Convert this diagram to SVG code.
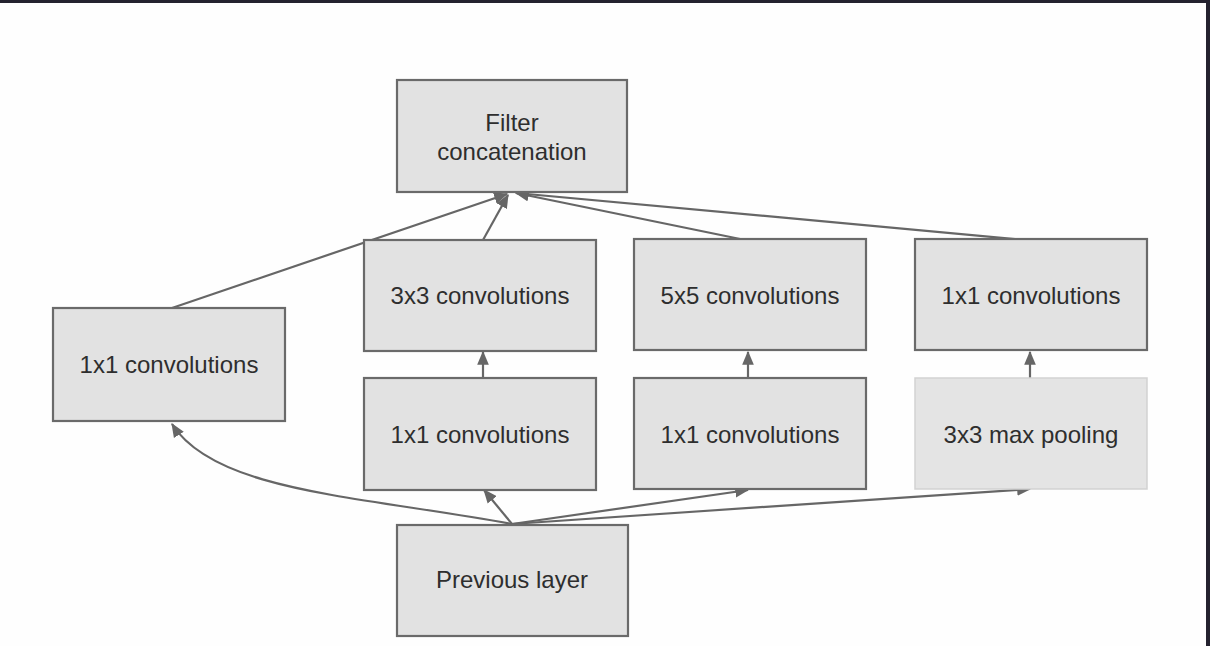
<svg xmlns="http://www.w3.org/2000/svg" width="1210" height="646" viewBox="0 0 1210 646">
<style>
.box{fill:#e2e2e2;stroke:#6a6a6a;stroke-width:2.2}
.pool{fill:#e4e4e4;stroke:#d2d2d2;stroke-width:1.5}
.lbl{font-family:"Liberation Sans",Arial,sans-serif;font-size:24px;fill:#2e2e2e;text-anchor:middle}
.edge{fill:none;stroke:#666;stroke-width:2.2}
</style>
<defs>
<marker id="ah" viewBox="0 0 12 10" refX="11" refY="5" markerWidth="14" markerHeight="12" markerUnits="userSpaceOnUse" orient="auto">
<path d="M0,0 L12,5 L0,10 Z" fill="#666"/>
</marker>
</defs>
<rect x="0" y="0" width="1210" height="646" fill="#fefefe"/>
<rect x="0" y="0" width="1210" height="3" fill="#24222f"/>
<rect x="1206" y="0" width="4" height="646" fill="#24222f"/>
<g id="connectors">
<line class="edge" x1="172" y1="308" x2="507" y2="194" marker-end="url(#ah)"/>
<line class="edge" x1="483" y1="240" x2="508" y2="195" marker-end="url(#ah)"/>
<line class="edge" x1="745" y1="240" x2="516" y2="193" marker-end="url(#ah)"/>
<line class="edge" x1="1025" y1="240" x2="516" y2="193" marker-end="url(#ah)"/>
<line class="edge" x1="483" y1="378" x2="483" y2="352" marker-end="url(#ah)"/>
<line class="edge" x1="748" y1="378" x2="748" y2="352" marker-end="url(#ah)"/>
<line class="edge" x1="1030" y1="378" x2="1030" y2="352" marker-end="url(#ah)"/>
<path class="edge" d="M512,524 C360,496 215,492 172,424" marker-end="url(#ah)"/>
<line class="edge" x1="512" y1="524" x2="484" y2="490" marker-end="url(#ah)"/>
<line class="edge" x1="512" y1="524" x2="748" y2="490" marker-end="url(#ah)"/>
<line class="edge" x1="512" y1="524" x2="1030" y2="489" marker-end="url(#ah)"/>
</g>
<g id="filter-concat">
<rect class="box" x="397" y="80" width="230" height="112"/>
<text class="lbl" x="512" y="131">Filter</text>
<text class="lbl" x="512" y="160">concatenation</text>
</g>
<g id="conv1x1-left">
<rect class="box" x="53" y="308" width="232" height="113"/>
<text class="lbl" x="169" y="373">1x1 convolutions</text>
</g>
<g id="conv3x3">
<rect class="box" x="364" y="240" width="232" height="111"/>
<text class="lbl" x="480" y="304">3x3 convolutions</text>
</g>
<g id="conv1x1-a">
<rect class="box" x="364" y="378" width="232" height="112"/>
<text class="lbl" x="480" y="443">1x1 convolutions</text>
</g>
<g id="conv5x5">
<rect class="box" x="634" y="239" width="232" height="111"/>
<text class="lbl" x="750" y="304">5x5 convolutions</text>
</g>
<g id="conv1x1-b">
<rect class="box" x="634" y="378" width="232" height="111"/>
<text class="lbl" x="750" y="443">1x1 convolutions</text>
</g>
<g id="conv1x1-c">
<rect class="box" x="915" y="239" width="232" height="111"/>
<text class="lbl" x="1031" y="304">1x1 convolutions</text>
</g>
<g id="maxpool">
<rect class="pool" x="915" y="378" width="232" height="111"/>
<text class="lbl" x="1031" y="443">3x3 max pooling</text>
</g>
<g id="previous-layer">
<rect class="box" x="397" y="525" width="231" height="111"/>
<text class="lbl" x="512" y="588">Previous layer</text>
</g>
</svg>
